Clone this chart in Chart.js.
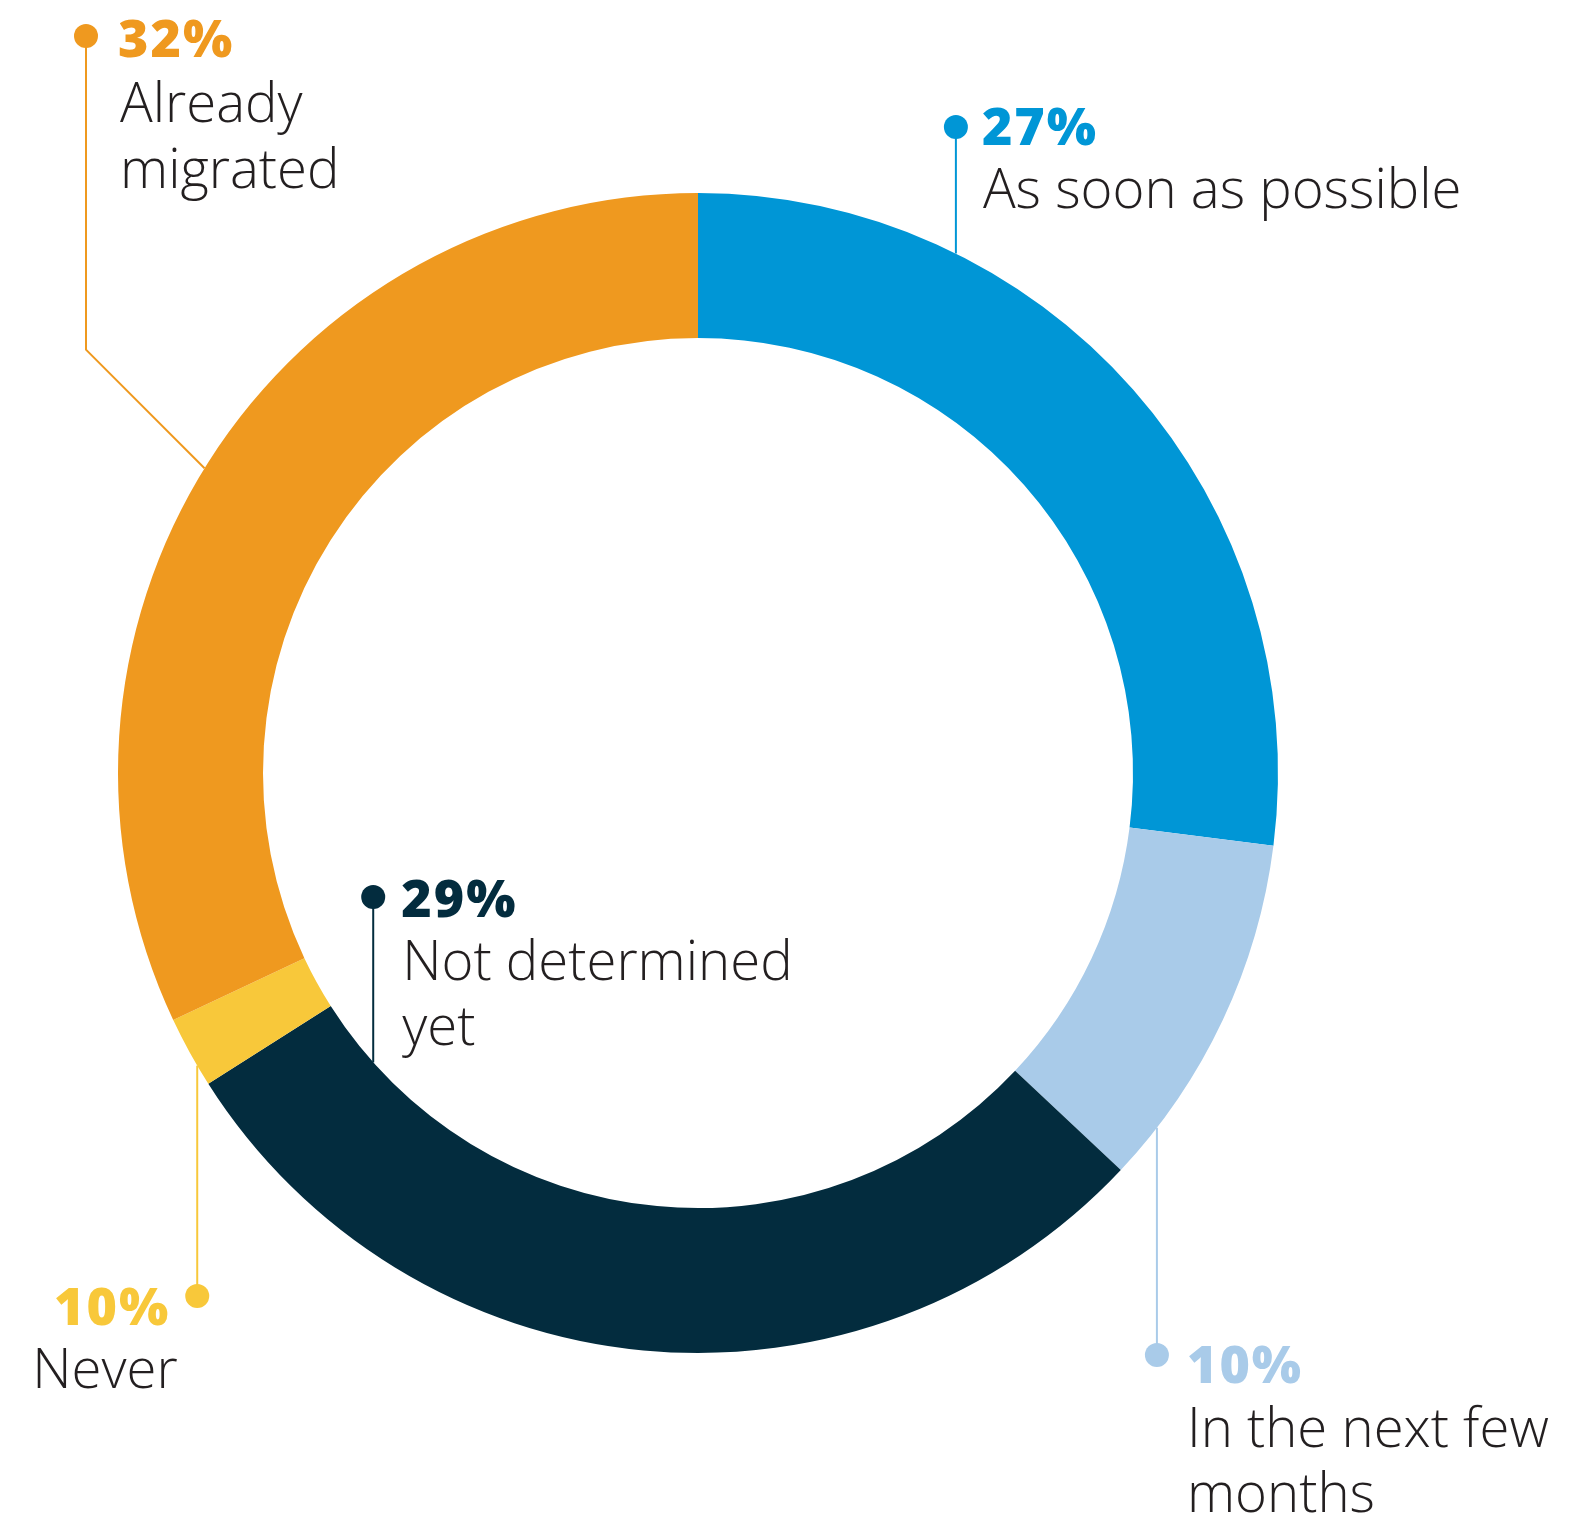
<!DOCTYPE html>
<html>
<head>
<meta charset="utf-8">
<script src="https://cdn.jsdelivr.net/npm/chart.js@4"></script>
<style>
  html, body { margin: 0; padding: 0; background: #ffffff; }
  #wrap { width: 1572px; height: 1523px; position: relative; }
</style>
</head>
<body>
<div id="wrap"><canvas id="c" width="1572" height="1523"></canvas></div>
<script>
// ---- data ----
const categories = ["As soon as possible", "In the next few months", "Not determined yet", "Never", "Already migrated"];
const values = [27, 10, 29, 2, 32];          // drawn arc sizes
const percentLabels = ["27%", "10%", "29%", "10%", "32%"]; // printed labels
const labelLines = [["As soon as possible"], ["In the next few", "months"], ["Not determined", "yet"], ["Never"], ["Already", "migrated"]];
const colors = ["#0096D6", "#A9CBE9", "#032C3E", "#F8C83A", "#EF991F"];

// ---- annotation layout (leader lines / label placement) ----
// angle: degrees clockwise from top where the leader touches the ring
const callouts = [
  { i: 0, angle: 26.4,  ring: "outer", dotY: 127,  pct: [26, 18],  lines: [27, 81],        align: "left" },
  { i: 1, angle: 127.7, ring: "outer", dotY: 1355, pct: [30, 28],  lines: [30, 92, 157],   align: "left" },
  { i: 2, angle: 228.3, ring: "inner", dotY: 897,  pct: [28, 20],  lines: [29, 83, 148],   align: "left" },
  { i: 3, angle: 239.7, ring: "outer", dotY: 1296, pct: [-27, 29], lines: [-165, 92],      align: "right" },
  { i: 4, angle: 301.7, ring: "outer", dotY: 36,   dotX: 86, elbow: true, pct: [32, 21], lines: [34, 86, 152], align: "left" }
];

const FONT = "'Open Sans', 'Noto Sans', sans-serif";

const calloutPlugin = {
  id: "callouts",
  afterDatasetsDraw(chart) {
    const ctx = chart.ctx;
    const arc = chart.getDatasetMeta(0).data[0];
    const cx = arc.x, cy = arc.y, R = arc.outerRadius, r = arc.innerRadius;
    callouts.forEach(c => {
      const col = colors[c.i];
      const rad = (c.ring === "outer" ? R : r);
      const a = (c.angle - 90) * Math.PI / 180;
      const ax = cx + rad * Math.cos(a), ay = cy + rad * Math.sin(a);
      const dx = c.elbow ? c.dotX : ax;
      const dy = c.dotY;
      ctx.save();
      ctx.strokeStyle = col;
      ctx.lineWidth = 2;
      ctx.beginPath();
      ctx.moveTo(ax, ay);
      if (c.elbow) {
        const ey = ay - (ax - dx);
        ctx.lineTo(dx, ey);
      }
      ctx.lineTo(dx, dy);
      ctx.stroke();
      ctx.fillStyle = col;
      ctx.beginPath();
      ctx.arc(dx, dy, 12, 0, Math.PI * 2);
      ctx.fill();
      // percentage
      ctx.font = "800 52px " + FONT;
      ctx.letterSpacing = "2px";
      ctx.textAlign = c.align;
      ctx.textBaseline = "alphabetic";
      ctx.fillText(percentLabels[c.i], dx + c.pct[0], dy + c.pct[1]);
      // label lines
      ctx.letterSpacing = "0px";
      ctx.font = "300 54.5px " + FONT;
      ctx.fillStyle = "#231F20";
      ctx.textAlign = "left";
      labelLines[c.i].forEach((t, k) => {
        ctx.fillText(t, dx + c.lines[0], dy + c.lines[k + 1]);
      });
      ctx.restore();
    });
  }
};

new Chart(document.getElementById("c"), {
  type: "doughnut",
  data: {
    labels: categories,
    datasets: [{ data: values, backgroundColor: colors, borderWidth: 0, hoverOffset: 0 }]
  },
  options: {
    responsive: false,
    animation: false,
    cutout: "75%",
    layout: { padding: { left: 118, right: 294, top: 193, bottom: 170 } },
    plugins: { legend: { display: false }, tooltip: { enabled: false } }
  },
  plugins: [calloutPlugin]
});
</script>
</body>
</html>
